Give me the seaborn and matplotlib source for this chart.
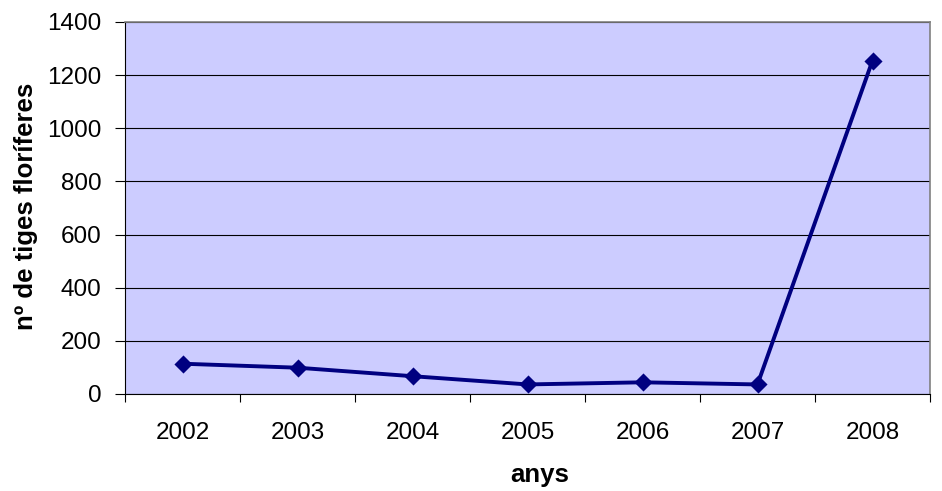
import matplotlib
matplotlib.use("Agg")
import matplotlib.pyplot as plt
import seaborn as sns
import pandas as pd
import numpy as np

anys = ["2002", "2003", "2004", "2005", "2006", "2007", "2008"]
tiges = [114, 99, 67, 36, 44, 36, 1255]
y_ticks = [0, 200, 400, 600, 800, 1000, 1200, 1400]

sns.set_style("white")
plt.rcParams["font.family"] = ["Liberation Sans", "DejaVu Sans"]
plt.rcParams["text.color"] = "black"
plt.rcParams["axes.labelcolor"] = "black"
plt.rcParams["xtick.color"] = "black"
plt.rcParams["ytick.color"] = "black"

df = pd.DataFrame({"anys": anys, "tiges": tiges})

fig = plt.figure(figsize=(9.42, 4.91), dpi=100)
ax = fig.add_axes([125 / 942, 1 - 394 / 491, (930 - 125) / 942, (394 - 22) / 491])
ax.set_facecolor("#CCCCFF")

sns.pointplot(data=df, x="anys", y="tiges", color="#000080", markers="D",
              markersize=7.5, linewidth=2.8, ax=ax)

ax.set_xlim(-0.5, len(anys) - 0.5)
ax.set_ylim(0, 1400)
ax.set_yticks(y_ticks)
ax.yaxis.grid(True, color="black", linewidth=0.8)
ax.set_axisbelow(True)

# category labels without marks; tick marks sit between categories
ax.tick_params(axis="x", which="major", length=0, labelsize=17.5, pad=20,
               labelcolor="black")
ax.set_xticks(np.arange(-0.5, len(anys)), minor=True)
ax.tick_params(axis="x", which="minor", length=6, width=0.8, direction="out",
               color="black", bottom=True)
ax.tick_params(axis="y", length=7, width=0.8, direction="out", labelsize=17.5,
               color="black", labelcolor="black", left=True, pad=10)

for side in ["left", "bottom"]:
    ax.spines[side].set_color("black")
    ax.spines[side].set_linewidth(0.8)
for side in ["top", "right"]:
    ax.spines[side].set_visible(True)
    ax.spines[side].set_color("#808080")
    ax.spines[side].set_linewidth(1.2)

ax.set_xlabel("anys", fontsize=18.5, fontweight="bold", color="black")
ax.xaxis.set_label_coords(0.5155, -0.185)
ax.set_ylabel("nº de tiges floríferes", fontsize=18.5, fontweight="bold",
              color="black")
ax.yaxis.set_label_coords(-0.108, 0.505)

fig.savefig("out.png", dpi=100)
